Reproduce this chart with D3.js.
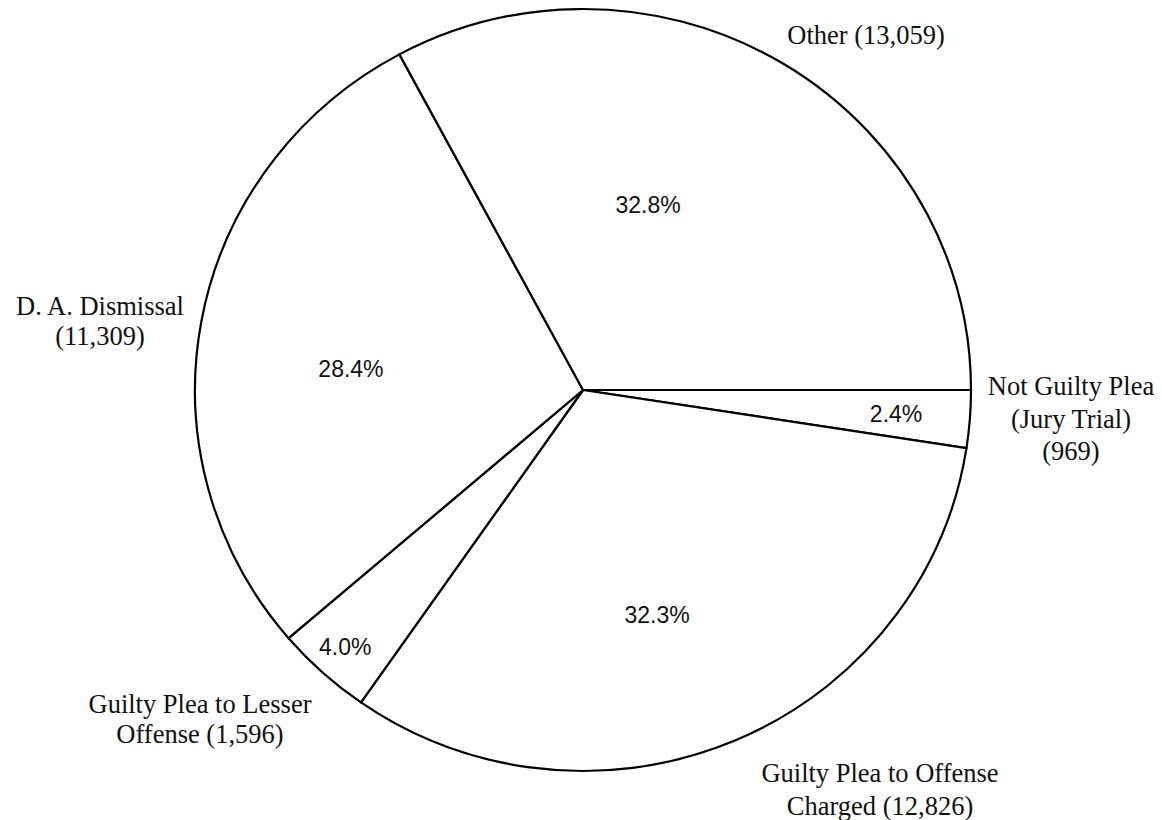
<!DOCTYPE html>
<html>
<head>
<meta charset="utf-8">
<script src="https://cdn.jsdelivr.net/npm/d3@7"></script>
<style>
  html, body { margin: 0; padding: 0; background: #fff; }
  svg { display: block; }
</style>
</head>
<body>
<svg id="chart" width="1162" height="820"></svg>
<script>
// ---- data ----
const categories = [
  "Not Guilty Plea (Jury Trial)",
  "Guilty Plea to Offense Charged",
  "Guilty Plea to Lesser Offense",
  "D. A. Dismissal",
  "Other"
];
const counts = [969, 12826, 1596, 11309, 13059];
const percentLabels = ["2.4%", "32.3%", "4.0%", "28.4%", "32.8%"];
const outerLabelLines = [
  ["Not Guilty Plea", "(Jury Trial)", "(969)"],
  ["Guilty Plea to Offense", "Charged (12,826)"],
  ["Guilty Plea to Lesser", "Offense (1,596)"],
  ["D. A. Dismissal", "(11,309)"],
  ["Other (13,059)"]
];

// ---- layout ----
const W = 1162, H = 820;
const cx = 583, cy = 390, rx = 388, ry = 381;
// percent label placement: [angle (deg, clockwise from 12 o'clock), radius]
const pctPlace = [[94.4, 314], [161.8, 237], [222.8, 350], [275.2, 233], [19.4, 196]];
// outer label placement: [centre x, first baseline y, line step]
const outerPlace = [[1071, 395, 32.5], [880, 782, 33], [200, 713, 30], [100, 315, 30], [866, 44, 30]];

const svg = d3.select("#chart");
svg.append("rect").attr("width", W).attr("height", H).attr("fill", "#fff");

const pie = d3.pie().sort(null).value(d => d)
  .startAngle(Math.PI / 2).endAngle(Math.PI / 2 + 2 * Math.PI);
const arcs = pie(counts);
const arc = d3.arc().innerRadius(0).outerRadius(rx);

const g = svg.append("g")
  .attr("transform", `translate(${cx},${cy}) scale(1,${ry / rx})`);

g.selectAll("path.slice")
  .data(arcs)
  .join("path")
  .attr("class", "slice")
  .attr("d", arc)
  .attr("fill", "#fff")
  .attr("stroke", "#000")
  .attr("stroke-width", 2.2)
  .attr("stroke-linejoin", "miter")
  .attr("vector-effect", "non-scaling-stroke");

// percent labels
svg.selectAll("text.pct")
  .data(arcs)
  .join("text")
  .attr("class", "pct")
  .attr("x", (d, i) => cx + pctPlace[i][1] * Math.sin(pctPlace[i][0] * Math.PI / 180))
  .attr("y", (d, i) => cy - pctPlace[i][1] * Math.cos(pctPlace[i][0] * Math.PI / 180))
  .attr("dy", "0.35em")
  .attr("text-anchor", "middle")
  .attr("font-family", "'Liberation Sans', Arial, sans-serif")
  .attr("font-size", 23)
  .attr("fill", "#111")
  .text((d, i) => percentLabels[i]);

// outer labels
const outer = svg.selectAll("text.outer")
  .data(outerLabelLines)
  .join("text")
  .attr("class", "outer")
  .attr("text-anchor", "middle")
  .attr("font-family", "'Liberation Serif', 'Times New Roman', serif")
  .attr("font-size", 26.5)
  .attr("fill", "#111");

outer.each(function (lines, i) {
  const [x, y, step] = outerPlace[i];
  d3.select(this).selectAll("tspan")
    .data(lines)
    .join("tspan")
    .attr("x", x)
    .attr("y", (l, j) => y + j * step)
    .text(l => l);
});
</script>
</body>
</html>
